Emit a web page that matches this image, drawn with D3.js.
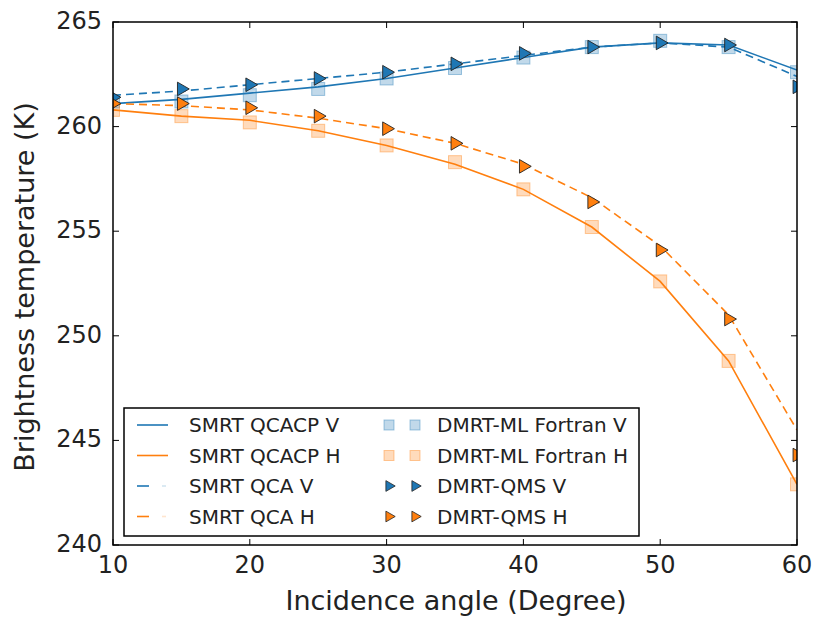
<!DOCTYPE html>
<html>
<head>
<meta charset="utf-8">
<script src="https://cdn.jsdelivr.net/npm/d3@7"></script>
<style>
  body { margin: 0; background: #fff; }
  svg { font-family: "DejaVu Sans", sans-serif; }
</style>
</head>
<body>
<div id="chart"></div>
<script>
// incidence angles (degree)
const angles = [10, 15, 20, 25, 30, 35, 40, 45, 50, 55, 60];

// brightness temperatures (K)
const smrtQcacpV = [261.1, 261.3, 261.6, 261.9, 262.3, 262.8, 263.3, 263.8, 264.0, 263.9, 262.7];
const smrtQcacpH = [260.8, 260.5, 260.3, 259.8, 259.1, 258.2, 257.0, 255.2, 252.6, 248.8, 242.9];
const smrtQcaV   = [261.5, 261.7, 262.0, 262.3, 262.6, 263.0, 263.4, 263.8, 264.0, 263.8, 262.4];
const smrtQcaH   = [261.1, 261.0, 260.8, 260.4, 259.9, 259.2, 258.2, 256.6, 254.3, 251.0, 245.5];
const dmrtMlV    = [261.2, 261.2, 261.5, 261.8, 262.3, 262.8, 263.3, 263.8, 264.1, 263.8, 262.6];
const dmrtMlH    = [260.8, 260.5, 260.2, 259.8, 259.1, 258.3, 257.0, 255.2, 252.6, 248.8, 242.9];
const dmrtQmsV   = [261.4, 261.8, 262.0, 262.3, 262.6, 263.0, 263.5, 263.8, 264.0, 263.9, 261.9];
const dmrtQmsH   = [261.1, 261.1, 260.9, 260.5, 259.9, 259.2, 258.1, 256.4, 254.1, 250.8, 244.3];

const xTicks = [10, 20, 30, 40, 50, 60];
const yTicks = [240, 245, 250, 255, 260, 265];

const blue = "#1f77b4";
const orange = "#ff7f0e";

const dimensions = {
  width: 814,
  height: 619,
  margin: { top: 22, right: 17, bottom: 74, left: 113 }
};
dimensions.boundedWidth = dimensions.width - dimensions.margin.left - dimensions.margin.right;
dimensions.boundedHeight = dimensions.height - dimensions.margin.top - dimensions.margin.bottom;

const wrapper = d3.select("#chart")
  .append("svg")
    .attr("width", dimensions.width)
    .attr("height", dimensions.height);

const bounds = wrapper.append("g")
  .attr("transform", `translate(${dimensions.margin.left},${dimensions.margin.top})`);

const xScale = d3.scaleLinear()
  .domain([10, 60])
  .range([0, dimensions.boundedWidth]);

const yScale = d3.scaleLinear()
  .domain([240, 265])
  .range([dimensions.boundedHeight, 0]);

// clip so markers at the edges get cut like in matplotlib
bounds.append("clipPath").attr("id", "clip")
  .append("rect")
    .attr("width", dimensions.boundedWidth)
    .attr("height", dimensions.boundedHeight);

const plot = bounds.append("g").attr("clip-path", "url(#clip)");

const line = values => d3.line()
  .x((d, i) => xScale(angles[i]))
  .y(d => yScale(d))(values);

const tri = d3.symbol().type(d3.symbolTriangle).size(80);
const triSmall = d3.symbol().type(d3.symbolTriangle).size(50);

const drawSquares = (values, color) => {
  plot.append("g").selectAll("rect")
    .data(values)
    .join("rect")
      .attr("x", (d, i) => xScale(angles[i]) - 6.5)
      .attr("y", d => yScale(d) - 6.5)
      .attr("width", 13)
      .attr("height", 13)
      .attr("fill", color)
      .attr("fill-opacity", 0.28)
      .attr("stroke", color)
      .attr("stroke-opacity", 0.4)
      .attr("stroke-width", 1);
};

const drawTriangles = (values, color) => {
  plot.append("g").selectAll("path")
    .data(values)
    .join("path")
      .attr("d", tri)
      .attr("transform", (d, i) => `translate(${xScale(angles[i])},${yScale(d)}) rotate(90)`)
      .attr("fill", color)
      .attr("stroke", "#222")
      .attr("stroke-width", 0.9);
};

const drawLine = (values, color, dashed) => {
  plot.append("path")
    .attr("d", line(values))
    .attr("fill", "none")
    .attr("stroke", color)
    .attr("stroke-width", 1.6)
    .attr("stroke-dasharray", dashed ? "8,5" : null);
};

// same order as the original draw
drawSquares(dmrtMlV, blue);
drawSquares(dmrtMlH, orange);
drawLine(smrtQcacpV, blue, false);
drawLine(smrtQcacpH, orange, false);
drawLine(smrtQcaV, blue, true);
drawLine(smrtQcaH, orange, true);
drawTriangles(dmrtQmsV, blue);
drawTriangles(dmrtQmsH, orange);

// ticks on all four sides, pointing inward
const tickLen = 6;
const ticks = bounds.append("g").attr("stroke", "#000").attr("stroke-width", 1);
xTicks.forEach(t => {
  const x = xScale(t);
  ticks.append("line").attr("x1", x).attr("x2", x)
    .attr("y1", dimensions.boundedHeight).attr("y2", dimensions.boundedHeight - tickLen);
  ticks.append("line").attr("x1", x).attr("x2", x)
    .attr("y1", 0).attr("y2", tickLen);
});
yTicks.forEach(t => {
  const y = yScale(t);
  ticks.append("line").attr("x1", 0).attr("x2", tickLen).attr("y1", y).attr("y2", y);
  ticks.append("line").attr("x1", dimensions.boundedWidth).attr("x2", dimensions.boundedWidth - tickLen)
    .attr("y1", y).attr("y2", y);
});

// tick labels
bounds.append("g").selectAll("text")
  .data(xTicks)
  .join("text")
    .attr("x", d => xScale(d))
    .attr("y", dimensions.boundedHeight + 28)
    .attr("text-anchor", "middle")
    .attr("font-size", 24)
    .attr("fill", "#222")
    .text(d => d);

bounds.append("g").selectAll("text")
  .data(yTicks)
  .join("text")
    .attr("x", -11)
    .attr("y", d => yScale(d) + 7)
    .attr("text-anchor", "end")
    .attr("font-size", 24)
    .attr("fill", "#222")
    .text(d => d);

// frame
bounds.append("rect")
  .attr("width", dimensions.boundedWidth)
  .attr("height", dimensions.boundedHeight)
  .attr("fill", "none")
  .attr("stroke", "#000")
  .attr("stroke-width", 1.5);

// axis labels
wrapper.append("text")
  .attr("x", 456)
  .attr("y", 610)
  .attr("text-anchor", "middle")
  .attr("font-size", 27)
  .attr("fill", "#222")
  .text("Incidence angle (Degree)");

wrapper.append("text")
  .attr("transform", `translate(34,287) rotate(-90)`)
  .attr("text-anchor", "middle")
  .attr("font-size", 27)
  .attr("fill", "#222")
  .text("Brightness temperature (K)");

// legend
const legendLines = [
  { label: "SMRT QCACP V", color: blue, dashed: false },
  { label: "SMRT QCACP H", color: orange, dashed: false },
  { label: "SMRT QCA V", color: blue, dashed: true },
  { label: "SMRT QCA H", color: orange, dashed: true }
];
const legendMarkers = [
  { label: "DMRT-ML Fortran V", color: blue, shape: "square" },
  { label: "DMRT-ML Fortran H", color: orange, shape: "square" },
  { label: "DMRT-QMS V", color: blue, shape: "tri" },
  { label: "DMRT-QMS H", color: orange, shape: "tri" }
];

const legend = wrapper.append("g").attr("transform", "translate(124,408)");
legend.append("rect")
  .attr("width", 515)
  .attr("height", 128)
  .attr("fill", "#fff")
  .attr("stroke", "#000")
  .attr("stroke-width", 1.5);

const rowY = i => 17 + i * 30.5;

legendLines.forEach((d, i) => {
  const g = legend.append("g").attr("transform", `translate(0,${rowY(i)})`);
  if (d.dashed) {
    g.append("line").attr("x1", 13).attr("x2", 25).attr("stroke", d.color).attr("stroke-width", 1.6);
    g.append("line").attr("x1", 38).attr("x2", 42).attr("stroke", d.color).attr("stroke-width", 1.6)
      .attr("stroke-opacity", 0.2);
  } else {
    g.append("line").attr("x1", 13).attr("x2", 44).attr("stroke", d.color).attr("stroke-width", 1.6);
  }
  g.append("text").attr("x", 65).attr("y", 7).attr("font-size", 20).attr("fill", "#222").text(d.label);
});

legendMarkers.forEach((d, i) => {
  const g = legend.append("g").attr("transform", `translate(0,${rowY(i)})`);
  [265, 291].forEach(cx => {
    if (d.shape === "square") {
      g.append("rect").attr("x", cx - 5).attr("y", -5).attr("width", 10).attr("height", 10)
        .attr("fill", d.color).attr("fill-opacity", 0.28)
        .attr("stroke", d.color).attr("stroke-opacity", 0.4);
    } else {
      g.append("path").attr("d", triSmall)
        .attr("transform", `translate(${cx},0) rotate(90)`)
        .attr("fill", d.color).attr("stroke", "#222").attr("stroke-width", 0.8);
    }
  });
  g.append("text").attr("x", 313).attr("y", 7).attr("font-size", 20).attr("fill", "#222").text(d.label);
});
</script>
</body>
</html>
